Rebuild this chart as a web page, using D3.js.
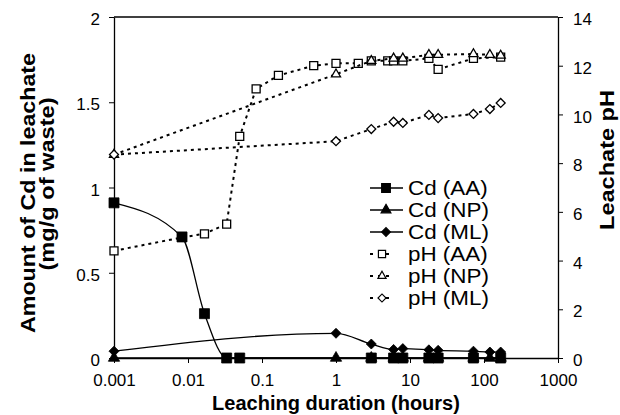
<!DOCTYPE html>
<html>
<head>
<meta charset="utf-8">
<script src="https://cdn.jsdelivr.net/npm/d3@7"></script>
<style>
  body { margin: 0; background: #fff; }
  svg { font-family: "Liberation Sans", Arial, sans-serif; }
</style>
</head>
<body>
<div id="viz"></div>
<script>
// leaching duration in hours, Cd in mg/g, pH
const cdAATime = [0.001, 0.0083, 0.0167, 0.0333, 0.05, 3, 6, 8, 18, 24, 72, 168];
const cdAA = [0.91, 0.71, 0.26, 0, 0, 0, 0, 0, 0, 0, 0, 0];
const cdNPTime = [0.001, 1, 3, 6, 8, 18, 24, 72, 120, 168];
const cdNP = [0, 0, 0, 0, 0, 0, 0, 0, 0, 0];
const cdMLTime = [0.001, 1, 3, 6, 8, 18, 24, 72, 120, 168];
const cdML = [0.04, 0.145, 0.082, 0.05, 0.055, 0.048, 0.045, 0.04, 0.035, 0.035];

const phAATime = [0.001, 0.0083, 0.0167, 0.0333, 0.05, 0.0833, 0.1667, 0.5, 1, 2, 3, 5, 6, 8, 18, 24, 72, 168];
const phAA = [4.4, 4.95, 5.1, 5.5, 9.1, 11.05, 11.6, 12.0, 12.1, 12.1, 12.2, 12.2, 12.2, 12.2, 12.3, 11.85, 12.3, 12.35];
const phNPTime = [0.001, 1, 3, 6, 8, 18, 24, 72, 120, 168];
const phNP = [8.35, 11.65, 12.2, 12.3, 12.3, 12.45, 12.45, 12.48, 12.45, 12.42];
const phMLTime = [0.001, 1, 3, 6, 8, 18, 24, 72, 120, 168];
const phML = [8.35, 8.9, 9.4, 9.7, 9.65, 9.98, 9.85, 10.02, 10.22, 10.47];

const xTicks = [0.001, 0.01, 0.1, 1, 10, 100, 1000];
const xTickLabels = ["0.001", "0.01", "0.1", "1", "10", "100", "1000"];
const yTicks = [0, 0.5, 1, 1.5, 2];
const y2Ticks = [0, 2, 4, 6, 8, 10, 12, 14];

const width = 620, height = 415;
const plot = { left: 114, right: 558, top: 17, bottom: 358 };

const svg = d3.select("#viz").append("svg")
  .attr("width", width)
  .attr("height", height);

const x = d3.scaleLog().domain([0.001, 1000]).range([plot.left, plot.right]);
const y = d3.scaleLinear().domain([0, 2]).range([plot.bottom, plot.top]);
const y2 = d3.scaleLinear().domain([0, 14]).range([plot.bottom, plot.top]);

// frame
svg.append("line").attr("x1", plot.left).attr("x2", plot.right).attr("y1", plot.top).attr("y2", plot.top)
  .attr("stroke", "#000").attr("stroke-width", 1.3);

const axisStyle = g => {
  g.select(".domain").attr("stroke", "#000").attr("stroke-width", 1.3);
  g.selectAll(".tick line").attr("stroke", "#000").attr("stroke-width", 1);
  g.selectAll(".tick text").attr("fill", "#000").attr("font-size", 17);
  g.attr("font-family", null);
};

svg.append("g")
  .attr("transform", `translate(0,${plot.bottom})`)
  .call(d3.axisBottom(x).tickValues(xTicks).tickFormat((d, i) => xTickLabels[i]).tickSize(5).tickSizeOuter(0).tickPadding(11))
  .call(axisStyle);

svg.append("g")
  .attr("transform", `translate(${plot.left},0)`)
  .call(d3.axisLeft(y).tickValues(yTicks).tickFormat(d3.format("")).tickSize(5).tickSizeOuter(0).tickPadding(9))
  .call(axisStyle)
  .selectAll(".tick text").attr("dy", "0.45em");

svg.append("g")
  .attr("transform", `translate(${plot.right},0)`)
  .call(d3.axisRight(y2).tickValues(y2Ticks).tickSize(5).tickSizeOuter(0).tickPadding(10))
  .call(axisStyle)
  .selectAll(".tick text").attr("dy", "0.45em");

// axis titles
svg.append("text")
  .attr("x", 336).attr("y", 410)
  .attr("text-anchor", "middle")
  .attr("font-weight", "bold").attr("font-size", 20)
  .text("Leaching duration (hours)");

const vTitle = (tx, ty, txt, len) => svg.append("text")
  .attr("transform", `translate(${tx},${ty}) rotate(-90)`)
  .attr("text-anchor", "middle")
  .attr("font-weight", "bold").attr("font-size", 21)
  .attr("textLength", len).attr("lengthAdjust", "spacingAndGlyphs")
  .text(txt);

vTitle(35, 193, "Amount of Cd in leachate", 280);
vTitle(54, 184, "(mg/g of waste)", 173);
vTitle(614, 160, "Leachate pH", 140);

// series
const symSquare = d3.symbol().type(d3.symbolSquare);
const symTri = d3.symbol().type(d3.symbolTriangle);

const series = [
  { t: phAATime, v: phAA, scale: y2, dash: true, sym: "square", size: 64, fill: "#fff", name: "pH (AA)" },
  { t: phNPTime, v: phNP, scale: y2, dash: true, sym: "triangle", size: 36, fill: "#fff", name: "pH (NP)" },
  { t: phMLTime, v: phML, scale: y2, dash: true, sym: "diamond", size: 40, fill: "#fff", name: "pH (ML)" },
  { t: cdAATime, v: cdAA, scale: y, dash: false, sym: "square", size: 100, fill: "#000", name: "Cd (AA)" },
  { t: cdNPTime, v: cdNP, scale: y, dash: false, sym: "triangle", size: 55, fill: "#000", name: "Cd (NP)" },
  { t: cdMLTime, v: cdML, scale: y, dash: false, sym: "diamond", size: 50, fill: "#000", name: "Cd (ML)" }
];

function marker(sel, s, size) {
  if (s.sym === "triangle") sel.attr("d", symTri.size(size)());
  else sel.attr("d", symSquare.size(size)());
  return sel;
}

series.forEach(s => {
  const pts = s.t.map((t, i) => [x(t), s.scale(s.v[i])]);
  const line = d3.line().curve(s.dash ? d3.curveLinear : d3.curveMonotoneX);
  svg.append("path")
    .attr("d", line(pts))
    .attr("fill", "none")
    .attr("stroke", "#000")
    .attr("stroke-width", s.dash ? 2 : 1.3)
    .attr("stroke-dasharray", s.dash ? "3,4" : null);
  svg.append("g").selectAll("path")
    .data(pts)
    .join("path")
    .call(sel => marker(sel, s, s.size))
    .attr("transform", d => `translate(${d[0]},${d[1]})` + (s.sym === "diamond" ? " rotate(45)" : ""))
    .attr("fill", s.fill)
    .attr("stroke", "#000")
    .attr("stroke-width", s.dash ? 1.3 : 0.8);
});

// legend
const legendOrder = ["Cd (AA)", "Cd (NP)", "Cd (ML)", "pH (AA)", "pH (NP)", "pH (ML)"];
const legend = svg.append("g");
legendOrder.forEach((name, i) => {
  const s = series.find(d => d.name === name);
  const ly = 188 + i * 22;
  const g = legend.append("g").attr("transform", `translate(0,${ly})`);
  if (s.dash) {
    g.append("line").attr("x1", 370).attr("x2", 392).attr("y1", 0).attr("y2", 0)
      .attr("stroke", "#000").attr("stroke-width", 2).attr("stroke-dasharray", "3,5");
  } else {
    g.append("line").attr("x1", 370).attr("x2", 403).attr("y1", 0).attr("y2", 0)
      .attr("stroke", "#000").attr("stroke-width", 1.3);
  }
  g.append("path")
    .call(sel => marker(sel, s, s.dash ? s.size * 0.8 : s.size * 0.75))
    .attr("transform", `translate(${s.dash ? 382 : 386},0)` + (s.sym === "diamond" ? " rotate(45)" : ""))
    .attr("fill", s.fill)
    .attr("stroke", "#000")
    .attr("stroke-width", 1.2);
  g.append("text")
    .attr("transform", "translate(408,0) scale(1.15,1)")
    .attr("dy", "0.36em")
    .attr("font-size", 19.5)
    .text(name);
});
</script>
</body>
</html>
